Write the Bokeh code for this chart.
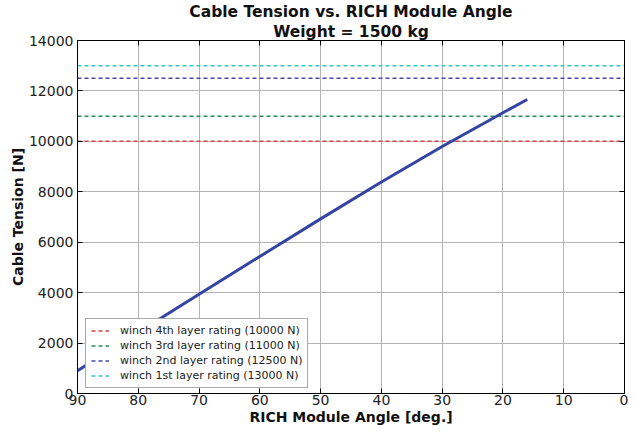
from bokeh.plotting import figure
from bokeh.models import Range1d, FixedTicker, LinearAxis, Legend, LegendItem, Title
from bokeh.embed import file_html
from bokeh.resources import INLINE

# Data
angle_deg = [90, 80, 70, 60, 50, 40, 30, 20, 16]
tension_n = [906, 2426, 3936, 5436, 6926, 8386, 9796, 11136, 11660]

rating_labels = ["winch 4th layer rating (10000 N)",
                 "winch 3rd layer rating (11000 N)",
                 "winch 2nd layer rating (12500 N)",
                 "winch 1st layer rating (13000 N)"]
rating_values = [10000, 11000, 12500, 13000]
rating_colors = ["#d04545", "#2f8a55", "#4848a8", "#35c4c8"]

x_ticks = [90, 80, 70, 60, 50, 40, 30, 20, 10, 0]
y_ticks = [0, 2000, 4000, 6000, 8000, 10000, 12000, 14000]

title_lines = ["Cable Tension vs. RICH Module Angle", "Weight = 1500 kg"]

FONT = "DejaVu Sans"

p = figure(frame_width=547, frame_height=353, output_backend="svg", toolbar_location=None,
           x_range=Range1d(90, 0), y_range=Range1d(0, 14000),
           min_border_left=77, min_border_right=4, min_border_top=0, min_border_bottom=0)
p.title.visible = False

p.background_fill_color = "white"
p.border_fill_color = "white"
p.outline_line_color = "black"
p.outline_line_width = 1

for ax in (p.xaxis[0], p.yaxis[0]):
    ax.major_tick_in = 5
    ax.major_tick_out = 0
    ax.minor_tick_in = 0
    ax.minor_tick_out = 0
    ax.major_label_text_font = FONT
    ax.major_label_text_font_size = "14px"
    ax.major_label_text_color = "#222222"
    ax.axis_label_text_font = FONT
    ax.axis_label_text_font_size = "14px"
    ax.axis_label_text_font_style = "bold"
    ax.axis_label_text_color = "#111111"
    ax.axis_line_color = "black"
    ax.major_tick_line_color = "black"

p.xaxis[0].ticker = FixedTicker(ticks=x_ticks)
p.yaxis[0].ticker = FixedTicker(ticks=y_ticks)
p.xaxis[0].axis_label = "RICH Module Angle [deg.]"
p.yaxis[0].axis_label = "Cable Tension [N]"
p.xaxis[0].major_label_standoff = 1
p.yaxis[0].major_label_standoff = 4
p.xaxis[0].axis_label_standoff = 1
p.yaxis[0].axis_label_standoff = 0

top = LinearAxis(ticker=FixedTicker(ticks=x_ticks), major_label_text_font_size="0px",
                 major_tick_in=5, major_tick_out=0, minor_tick_in=0, minor_tick_out=0,
                 major_label_standoff=0, axis_label_standoff=0)
right = LinearAxis(ticker=FixedTicker(ticks=y_ticks), major_label_text_font_size="0px",
                   major_tick_in=5, major_tick_out=0, minor_tick_in=0, minor_tick_out=0,
                   major_label_standoff=0, axis_label_standoff=0)
p.add_layout(top, "above")
p.add_layout(right, "right")

for txt in reversed(title_lines):
    p.add_layout(Title(text=txt, align="center", text_font=FONT, text_font_size="15.5px",
                       text_font_style="bold", text_color="#111111", standoff=0, offset=0,
                       text_line_height=1.0), "above")

p.grid.grid_line_color = "#b4b4b4"
p.grid.grid_line_width = 1
p.xgrid.ticker = FixedTicker(ticks=x_ticks)
p.ygrid.ticker = FixedTicker(ticks=y_ticks)

items = []
for lab, val, col in zip(rating_labels, rating_values, rating_colors):
    r = p.line([90, 0], [val, val], line_color=col, line_width=1.5, line_dash="4 3")
    items.append(LegendItem(label=lab, renderers=[r]))

p.line(angle_deg, tension_n, line_color="#3444a0", line_width=3)

legend = Legend(items=items, location=(8, 5))
legend.label_text_font = FONT
legend.label_text_font_size = "11px"
legend.label_text_color = "#222222"
legend.glyph_width = 18
legend.glyph_height = 13
legend.label_height = 13
legend.label_standoff = 11
legend.spacing = 2
legend.padding = 5
legend.margin = 0
legend.border_line_color = "#555555"
legend.border_line_width = 1
legend.background_fill_alpha = 1.0
p.add_layout(legend)

open("out.html", "w").write(file_html(p, INLINE))
